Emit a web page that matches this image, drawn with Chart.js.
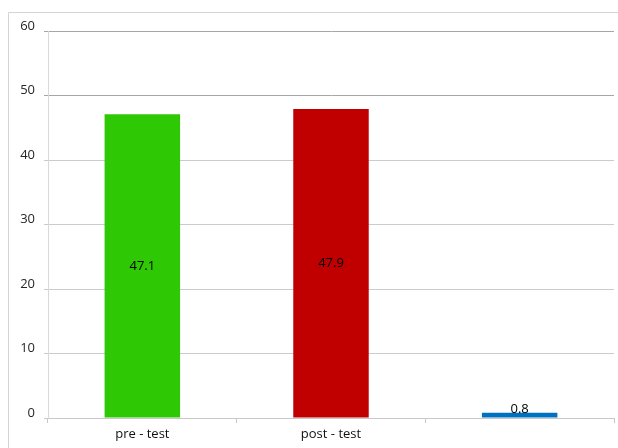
<!DOCTYPE html>
<html>
<head>
<meta charset="utf-8">
<script src="https://cdn.jsdelivr.net/npm/chart.js@4"></script>
<style>
  html, body { margin: 0; padding: 0; background: #fff; }
  #wrap { width: 618px; height: 448px; position: relative; }
</style>
</head>
<body>
<div id="wrap"><canvas id="myChart" width="618" height="448"></canvas></div>
<script>
const categories = ["pre - test", "post - test", ""];
const scores = [47.1, 47.9, 0.8];
const barColors = ["#2ec804", "#c00000", "#0070c0"];
const yTicks = [0, 10, 20, 30, 40, 50, 60];

// light frame around the whole chart
const framePlugin = {
  id: "frame",
  beforeDraw(chart) {
    const ctx = chart.ctx;
    ctx.save();
    ctx.strokeStyle = "#d4d4d4";
    ctx.lineWidth = 1;
    ctx.beginPath();
    ctx.moveTo(8.5, 460);
    ctx.lineTo(8.5, 12.5);
    ctx.lineTo(630, 12.5);
    ctx.stroke();
    ctx.restore();
  },
};

// value labels in the middle of each bar
const valueLabels = {
  id: "valueLabels",
  afterDatasetsDraw(chart) {
    const ctx = chart.ctx;
    const meta = chart.getDatasetMeta(0);
    ctx.save();
    ctx.font = "13px 'Open Sans'";
    ctx.fillStyle = "#000";
    ctx.textAlign = "center";
    ctx.textBaseline = "middle";
    meta.data.forEach((bar, i) => {
      let y = (bar.y + bar.base) / 2;
      if (bar.base - y < 8) y = bar.base - 8;
      ctx.fillText(String(scores[i]), bar.x, y);
    });
    ctx.restore();
  },
};

new Chart("myChart", {
  type: "bar",
  data: {
    labels: categories,
    datasets: [
      {
        data: scores,
        backgroundColor: barColors,
        borderWidth: 0,
        barPercentage: 0.8,
        categoryPercentage: 0.5,
      },
    ],
  },
  options: {
    responsive: false,
    animation: false,
    layout: { padding: { top: 31, right: 4, left: 0, bottom: 0 } },
    plugins: {
      legend: { display: false },
      tooltip: { enabled: false },
    },
    scales: {
      x: {
        afterFit: (scale) => { scale.height = 30; },
        grid: {
          offset: true,
          drawOnChartArea: false,
          drawTicks: true,
          tickLength: 5,
          color: "#c8c8c8",
        },
        border: { color: "#c8c8c8" },
        ticks: {
          color: "#111",
          padding: 3,
          font: { family: "'Open Sans'", size: 13 },
        },
      },
      y: {
        min: 0,
        max: 60,
        afterFit: (scale) => { scale.width = 48; },
        afterBuildTicks: (scale) => {
          scale.ticks = yTicks.map((v) => ({ value: v }));
        },
        grid: {
          color: (c) => (c.tick && c.tick.value >= 50 ? "#a6a6a6" : "#cbcbcb"),
          tickLength: 4,
        },
        border: { color: "#d9d9d9" },
        ticks: {
          stepSize: 10,
          padding: 9,
          labelOffset: -5,
          color: "#262626",
          font: { family: "'Open Sans'", size: 13 },
        },
      },
    },
  },
  plugins: [framePlugin, valueLabels],
});
</script>
</body>
</html>
